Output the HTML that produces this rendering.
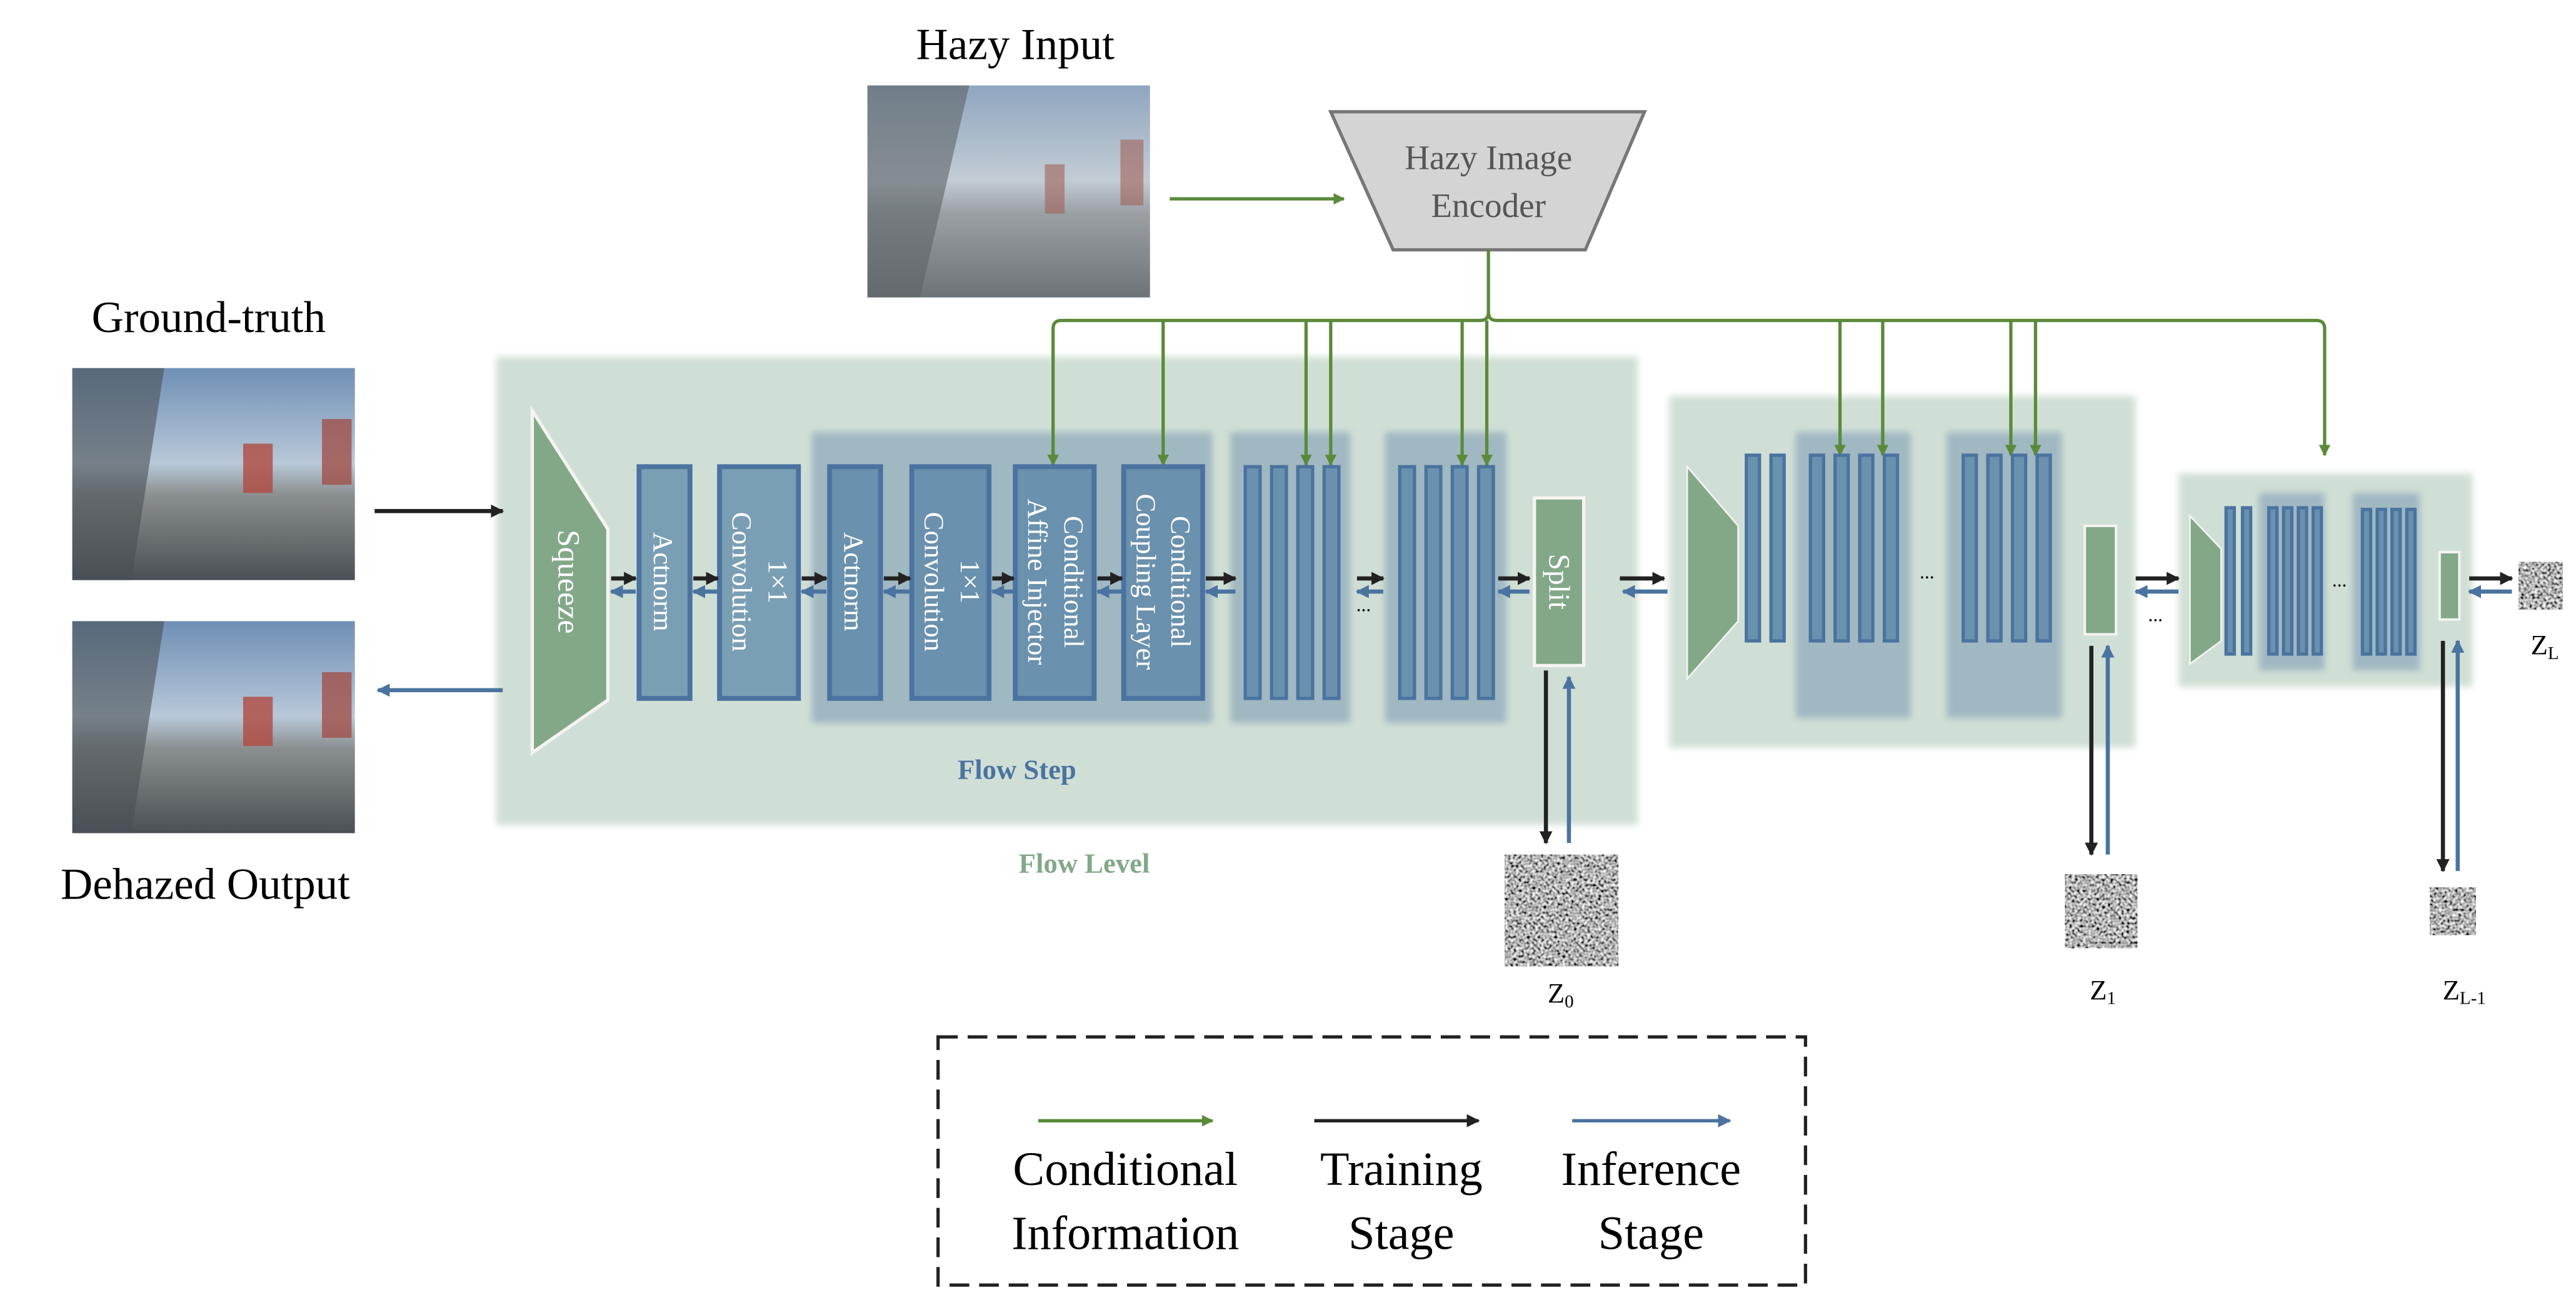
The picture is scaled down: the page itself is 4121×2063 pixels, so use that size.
<!DOCTYPE html>
<html><head><meta charset="utf-8"><style>html,body{margin:0;padding:0;background:#fff}svg{display:block}</style></head>
<body>
<svg width="4121" height="2063" viewBox="0 0 1568 785" preserveAspectRatio="none" xmlns="http://www.w3.org/2000/svg" font-family="Liberation Serif, serif">
<defs>
<filter id="blur" x="-5%" y="-5%" width="110%" height="110%"><feGaussianBlur stdDeviation="2"/></filter>
<filter id="gnoise" x="0" y="0" width="100%" height="100%">
<feTurbulence type="fractalNoise" baseFrequency="0.6" numOctaves="1" seed="7" result="t"/>
<feColorMatrix in="t" type="matrix" values="2 0 0 0 -0.55  2 0 0 0 -0.55  2 0 0 0 -0.55  0 0 0 0 1"/>
</filter>
<linearGradient id="sky" x1="0" y1="0" x2="0" y2="1">
<stop offset="0" stop-color="#6f8fb5"/><stop offset="0.45" stop-color="#b8c8d8"/><stop offset="0.6" stop-color="#8a8f90"/><stop offset="1" stop-color="#4a5055"/></linearGradient>
<linearGradient id="hsky" x1="0" y1="0" x2="0" y2="1">
<stop offset="0" stop-color="#8fa6bf"/><stop offset="0.45" stop-color="#c3ccd4"/><stop offset="0.6" stop-color="#9aa0a4"/><stop offset="1" stop-color="#6d7479"/></linearGradient>
<marker id="ag" viewBox="0 0 10 10" refX="9" refY="5" markerWidth="7" markerHeight="7" orient="auto-start-reverse" markerUnits="userSpaceOnUse"><path d="M0,0L10,5L0,10z" fill="#5a8a3a"/></marker>
<marker id="ak" viewBox="0 0 10 10" refX="9" refY="5" markerWidth="8" markerHeight="8" orient="auto" markerUnits="userSpaceOnUse"><path d="M0,0L10,5L0,10z" fill="#222"/></marker>
<marker id="ab" viewBox="0 0 10 10" refX="9" refY="5" markerWidth="8" markerHeight="8" orient="auto" markerUnits="userSpaceOnUse"><path d="M0,0L10,5L0,10z" fill="#4a73a0"/></marker>
</defs>

<rect x="528" y="52" width="172" height="129" fill="url(#hsky)"/>
<path d="M528,52 L590,52 L560,181 L528,181z" fill="#5d6468" opacity="0.6"/>
<rect x="44" y="224" width="172" height="129" fill="url(#sky)"/>
<path d="M44,224 L100,224 L80,353 L44,353z" fill="#4a5055" opacity="0.6"/>
<rect x="148" y="270" width="18" height="30" fill="#b04a40" opacity="0.8"/>
<rect x="196" y="255" width="18" height="40" fill="#a05048" opacity="0.8"/>
<rect x="44" y="378" width="172" height="129" fill="url(#sky)"/>
<path d="M44,378 L100,378 L80,507 L44,507z" fill="#4a5055" opacity="0.6"/>
<rect x="148" y="424" width="18" height="30" fill="#b04a40" opacity="0.8"/>
<rect x="196" y="409" width="18" height="40" fill="#a05048" opacity="0.8"/>
<rect x="636" y="100" width="12" height="30" fill="#a06058" opacity="0.6"/>
<rect x="682" y="85" width="14" height="40" fill="#a06058" opacity="0.6"/>

<text x="618" y="36" font-size="27" text-anchor="middle">Hazy Input</text>
<text x="127" y="202" font-size="27" text-anchor="middle">Ground-truth</text>
<text x="125" y="547" font-size="27" text-anchor="middle">Dehazed Output</text>

<polygon points="810,68 1001,68 965,152 848,152" fill="#d4d4d4" stroke="#777" stroke-width="2"/>
<text x="906" y="103" font-size="21" text-anchor="middle" fill="#555">Hazy Image</text>
<text x="906" y="132" font-size="21" text-anchor="middle" fill="#555">Encoder</text>
<line x1="712" y1="121" x2="818" y2="121" stroke="#5a8a3a" stroke-width="2" marker-end="url(#ag)"/>

<rect x="302" y="217" width="695" height="285" fill="#d0dfd5" filter="url(#blur)"/>
<rect x="1016" y="241" width="284" height="214" fill="#d0dfd5" filter="url(#blur)"/>
<rect x="1326" y="288" width="179" height="130" fill="#d0dfd5" filter="url(#blur)"/>

<g fill="#a0b8c2" filter="url(#blur)">
<rect x="494" y="263" width="244" height="177"/>
<rect x="749" y="263" width="73" height="177"/>
<rect x="843" y="263" width="74" height="177"/>
<rect x="1093" y="263" width="70" height="174"/>
<rect x="1185" y="263" width="70" height="174"/>
<rect x="1375" y="300" width="40" height="108"/>
<rect x="1432" y="300" width="41" height="108"/>
</g>

<g stroke="#5a8a3a" stroke-width="2" fill="none">
<path d="M906,152 V190 Q906,195 901,195 H646 Q641,195 641,200 V283" marker-end="url(#ag)"/>
<path d="M906,190 Q906,195 911,195 H1410 Q1415,195 1415,200 V277" marker-end="url(#ag)"/>
<path d="M708,195 V283" marker-end="url(#ag)"/>
<path d="M795,195 V283" marker-end="url(#ag)"/>
<path d="M810,195 V283" marker-end="url(#ag)"/>
<path d="M890,195 V283" marker-end="url(#ag)"/>
<path d="M905,195 V283" marker-end="url(#ag)"/>
<path d="M1120,195 V277" marker-end="url(#ag)"/>
<path d="M1146,195 V277" marker-end="url(#ag)"/>
<path d="M1224,195 V277" marker-end="url(#ag)"/>
<path d="M1239,195 V277" marker-end="url(#ag)"/>
</g>

<polygon points="324,250 370,322 370,426 324,458" fill="#82a888" stroke="#f4f4f0" stroke-width="2"/>
<text transform="translate(340,354) rotate(90)" font-size="19" fill="#fff" text-anchor="middle">Squeeze</text>

<g stroke="#4a73a0" stroke-width="3">
<rect x="389" y="284" width="31" height="141" fill="#7a9fb5"/>
<rect x="438" y="284" width="48" height="141" fill="#7a9fb5"/>
<rect x="505" y="284" width="31" height="141" fill="#6a91ad"/>
<rect x="555" y="284" width="47" height="141" fill="#6a91ad"/>
<rect x="618" y="284" width="48" height="141" fill="#6a91ad"/>
<rect x="684" y="284" width="48" height="141" fill="#6a91ad"/>
</g>
<g fill="#fff" font-size="17" text-anchor="middle">
<text transform="translate(398,354) rotate(90)">Actnorm</text>
<text transform="translate(468,354) rotate(90)">1×1</text>
<text transform="translate(446,354) rotate(90)">Convolution</text>
<text transform="translate(514,354) rotate(90)">Actnorm</text>
<text transform="translate(585,354) rotate(90)">1×1</text>
<text transform="translate(563,354) rotate(90)">Convolution</text>
<text transform="translate(648,354) rotate(90)">Conditional</text>
<text transform="translate(626,354) rotate(90)">Affine Injector</text>
<text transform="translate(713,354) rotate(90)">Conditional</text>
<text transform="translate(692,354) rotate(90)">Coupling Layer</text>
</g>

<g fill="#6a91ad" stroke="#4a73a0" stroke-width="2">
<rect x="758" y="284" width="9" height="141"/><rect x="774" y="284" width="9" height="141"/><rect x="790" y="284" width="9" height="141"/><rect x="806" y="284" width="9" height="141"/>
<rect x="852" y="284" width="9" height="141"/><rect x="868" y="284" width="9" height="141"/><rect x="884" y="284" width="9" height="141"/><rect x="900" y="284" width="9" height="141"/>
<rect x="1063" y="277" width="8" height="113"/><rect x="1078" y="277" width="8" height="113"/>
<rect x="1102" y="277" width="8" height="113"/><rect x="1117" y="277" width="8" height="113"/><rect x="1132" y="277" width="8" height="113"/><rect x="1147" y="277" width="8" height="113"/>
<rect x="1195" y="277" width="8" height="113"/><rect x="1210" y="277" width="8" height="113"/><rect x="1225" y="277" width="8" height="113"/><rect x="1240" y="277" width="8" height="113"/>
<rect x="1355" y="309" width="5" height="89"/><rect x="1365" y="309" width="5" height="89"/>
<rect x="1381" y="309" width="5" height="89"/><rect x="1390" y="309" width="5" height="89"/><rect x="1399" y="309" width="5" height="89"/><rect x="1408" y="309" width="5" height="89"/>
<rect x="1438" y="310" width="5" height="88"/><rect x="1447" y="310" width="5" height="88"/><rect x="1456" y="310" width="5" height="88"/><rect x="1465" y="310" width="5" height="88"/>
</g>

<rect x="934" y="303" width="30" height="102" fill="#82a888" stroke="#f4f4f0" stroke-width="2"/>
<text transform="translate(943,354) rotate(90)" font-size="18" fill="#fff" text-anchor="middle">Split</text>
<polygon points="1027,284 1058,320 1058,378 1027,413" fill="#82a888" stroke="#f4f4f0" stroke-width="1"/>
<rect x="1269" y="320" width="19" height="66" fill="#82a888" stroke="#f4f4f0" stroke-width="1.5"/>
<polygon points="1333,314 1352,334 1352,390 1333,404" fill="#82a888" stroke="#f4f4f0" stroke-width="1"/>
<rect x="1485" y="336" width="12" height="41" fill="#82a888" stroke="#f4f4f0" stroke-width="1.5"/>

<g font-size="12" text-anchor="middle"><text x="830" y="372">...</text><text x="1173" y="352">...</text><text x="1312" y="378">...</text><text x="1424" y="357">...</text></g>

<g stroke-width="2.5">
<g stroke="#222" marker-end="url(#ak)">
<line x1="372" y1="352" x2="387" y2="352"/><line x1="422" y1="352" x2="437" y2="352"/><line x1="488" y1="352" x2="503" y2="352"/><line x1="538" y1="352" x2="554" y2="352"/><line x1="604" y1="352" x2="617" y2="352"/><line x1="668" y1="352" x2="683" y2="352"/><line x1="734" y1="352" x2="752" y2="352"/><line x1="826" y1="352" x2="842" y2="352"/><line x1="912" y1="352" x2="931" y2="352"/><line x1="986" y1="352" x2="1013" y2="352"/><line x1="1300" y1="352" x2="1326" y2="352"/><line x1="1503" y1="352" x2="1529" y2="352"/>
<line x1="228" y1="311" x2="306" y2="311"/>
</g>
<g stroke="#4a73a0" marker-end="url(#ab)">
<line x1="387" y1="360" x2="372" y2="360"/><line x1="437" y1="360" x2="422" y2="360"/><line x1="503" y1="360" x2="488" y2="360"/><line x1="554" y1="360" x2="538" y2="360"/><line x1="617" y1="360" x2="604" y2="360"/><line x1="683" y1="360" x2="668" y2="360"/><line x1="752" y1="360" x2="734" y2="360"/><line x1="842" y1="360" x2="826" y2="360"/><line x1="931" y1="360" x2="912" y2="360"/><line x1="1015" y1="360" x2="988" y2="360"/><line x1="1326" y1="360" x2="1300" y2="360"/><line x1="1529" y1="360" x2="1503" y2="360"/>
<line x1="306" y1="420" x2="230" y2="420"/>
</g>
<line x1="941" y1="408" x2="941" y2="513" stroke="#222" marker-end="url(#ak)"/>
<line x1="955" y1="513" x2="955" y2="412" stroke="#4a73a0" marker-end="url(#ab)"/>
<line x1="1273" y1="393" x2="1273" y2="520" stroke="#222" marker-end="url(#ak)"/>
<line x1="1283" y1="520" x2="1283" y2="393" stroke="#4a73a0" marker-end="url(#ab)"/>
<line x1="1487" y1="390" x2="1487" y2="530" stroke="#222" marker-end="url(#ak)"/>
<line x1="1496" y1="530" x2="1496" y2="390" stroke="#4a73a0" marker-end="url(#ab)"/>
</g>

<rect x="916" y="520" width="69" height="68" fill="#888" filter="url(#gnoise)"/>
<rect x="1257" y="532" width="44" height="45" fill="#888" filter="url(#gnoise)"/>
<rect x="1479" y="540" width="28" height="29" fill="#888" filter="url(#gnoise)"/>
<rect x="1533" y="342" width="27" height="29" fill="#888" filter="url(#gnoise)"/>

<g font-size="17" text-anchor="middle">
<text x="950" y="610">Z<tspan font-size="11" dy="3">0</tspan></text>
<text x="1280" y="608">Z<tspan font-size="11" dy="3">1</tspan></text>
<text x="1500" y="608">Z<tspan font-size="11" dy="3">L-1</tspan></text>
<text x="1549" y="398">Z<tspan font-size="11" dy="3">L</tspan></text>
</g>

<text x="619" y="474" font-size="17" font-weight="bold" fill="#4a73a0" text-anchor="middle">Flow Step</text>
<text x="660" y="531" font-size="17" font-weight="bold" fill="#82a888" text-anchor="middle">Flow Level</text>

<rect x="571" y="631" width="528" height="151" fill="none" stroke="#222" stroke-width="2" stroke-dasharray="12,6"/>
<line x1="632" y1="682" x2="738" y2="682" stroke="#5a8a3a" stroke-width="2" marker-end="url(#ag)"/>
<line x1="800" y1="682" x2="900" y2="682" stroke="#222" stroke-width="2" marker-end="url(#ak)"/>
<line x1="957" y1="682" x2="1053" y2="682" stroke="#4a73a0" stroke-width="2" marker-end="url(#ab)"/>
<g font-size="29" text-anchor="middle">
<text x="685" y="721">Conditional</text><text x="685" y="760">Information</text>
<text x="853" y="721">Training</text><text x="853" y="760">Stage</text>
<text x="1005" y="721">Inference</text><text x="1005" y="760">Stage</text>
</g>
</svg>
</body></html>
